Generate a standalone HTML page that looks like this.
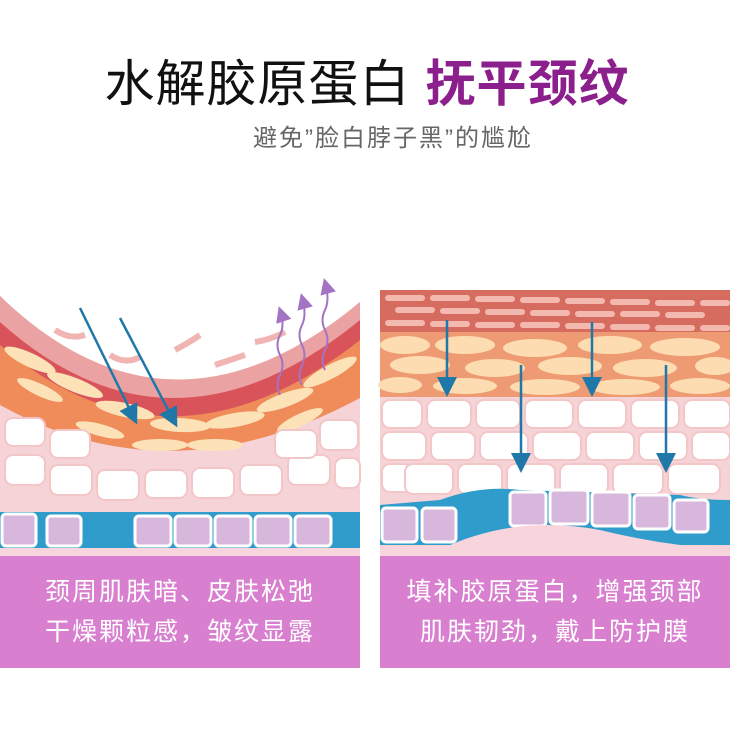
<!DOCTYPE html>
<html><head><meta charset="utf-8"><style>
body{margin:0;width:730px;height:739px;background:#fff;overflow:hidden;position:relative;font-family:"Liberation Sans","Noto Sans CJK SC",sans-serif}
.t{position:absolute;left:0;width:730px;text-align:center}
.box{position:absolute;top:556px;height:112px;background:#d880cf;color:#fff;font-size:25px;line-height:40px;text-align:center;padding-top:16px;box-sizing:border-box;letter-spacing:2px}
</style></head><body>
<div class="t" style="top:44px;font-size:50px;color:#111;left:2px;letter-spacing:1px">水解胶原蛋白 <b style="color:#8b1f8c">抚平颈纹</b></div>
<div class="t" style="top:118px;font-size:24px;color:#666;left:28px;letter-spacing:2px">避免”脸白脖子黑”的尴尬</div>
<svg style="position:absolute;left:0;top:0" width="730" height="739">
<defs>
<marker id="a" markerWidth="8" markerHeight="8" refX="6" refY="4" orient="auto"><path d="M0,0L8,4L0,8z" fill="#1f78a8"/></marker>
<marker id="p" markerWidth="8" markerHeight="8" refX="6" refY="4" orient="auto"><path d="M0,0L8,4L0,8z" fill="#a474c4"/></marker>
</defs>
<!-- left panel -->
<rect x="0" y="330" width="360" height="226" fill="#f6d3d6"/>
<path d="M0,295 Q170,480 360,300 L360,330 L0,330Z" fill="#fff"/>
<path d="M0,300 Q170,485 360,305 L360,398 Q170,500 0,405Z" fill="#ef8c5a"/>
<path d="M0,296 Q170,470 360,302 L360,340 Q170,490 0,345Z" fill="#d9545a"/>
<path d="M0,296 Q170,460 360,302 L360,320 Q170,475 0,322Z" fill="#eaa2a2"/>
<g fill="#fde2b8">
<ellipse cx="30" cy="360" rx="28" ry="7" transform="rotate(25 30 360)"/><ellipse cx="75" cy="385" rx="30" ry="7" transform="rotate(22 75 385)"/>
<ellipse cx="125" cy="410" rx="30" ry="7" transform="rotate(12 125 410)"/><ellipse cx="180" cy="425" rx="30" ry="7" transform="rotate(3 180 425)"/>
<ellipse cx="235" cy="420" rx="30" ry="7" transform="rotate(-10 235 420)"/><ellipse cx="285" cy="400" rx="30" ry="7" transform="rotate(-20 285 400)"/>
<ellipse cx="330" cy="372" rx="30" ry="7" transform="rotate(-28 330 372)"/><ellipse cx="160" cy="445" rx="28" ry="6"/><ellipse cx="215" cy="445" rx="28" ry="6"/>
<ellipse cx="40" cy="390" rx="25" ry="6" transform="rotate(25 40 390)"/><ellipse cx="300" cy="420" rx="25" ry="6" transform="rotate(-25 300 420)"/><ellipse cx="100" cy="430" rx="25" ry="6" transform="rotate(15 100 430)"/>
</g>
<g stroke="#f0b4b2" stroke-width="6" fill="none">
<path d="M55,330q15,10 30,5"/><path d="M110,355q15,10 30,2"/><path d="M175,350q15,-8 25,-15"/><path d="M215,365q15,-5 30,-10"/><path d="M255,342q15,-2 30,-10"/>
</g>
<g fill="#fff" stroke="#f3c6c8" stroke-width="2">
<rect x="5" y="455" width="40" height="30" rx="8"/><rect x="50" y="465" width="42" height="30" rx="8"/><rect x="97" y="470" width="42" height="30" rx="8"/>
<rect x="145" y="470" width="42" height="28" rx="8"/><rect x="192" y="468" width="42" height="30" rx="8"/><rect x="240" y="465" width="42" height="30" rx="8"/>
<rect x="288" y="455" width="42" height="30" rx="8"/><rect x="320" y="420" width="38" height="30" rx="8"/><rect x="5" y="418" width="40" height="28" rx="8"/>
<rect x="50" y="430" width="40" height="28" rx="8"/><rect x="275" y="430" width="42" height="28" rx="8"/><rect x="335" y="458" width="25" height="30" rx="8"/>
</g>
<rect x="0" y="512" width="360" height="36" fill="#2f9ccc"/>
<g fill="#d7b8dc" stroke="#fff" stroke-width="3">
<rect x="2" y="514" width="34" height="32" rx="4"/><rect x="47" y="516" width="34" height="30" rx="4"/><rect x="135" y="516" width="36" height="30" rx="4"/>
<rect x="175" y="516" width="36" height="30" rx="4"/><rect x="215" y="516" width="36" height="30" rx="4"/><rect x="255" y="516" width="36" height="30" rx="4"/><rect x="295" y="516" width="36" height="30" rx="4"/>
</g>
<rect x="0" y="548" width="360" height="8" fill="#f8d4dc"/>
<line x1="80" y1="308" x2="135" y2="420" stroke="#1f78a8" stroke-width="2.5" marker-end="url(#a)"/>
<line x1="120" y1="318" x2="175" y2="423" stroke="#1f78a8" stroke-width="2.5" marker-end="url(#a)"/>
<g stroke="#a474c4" stroke-width="2" fill="none" marker-end="url(#p)">
<path d="M280,395 q-5,-10 0,-20 q5,-10 0,-20 q-5,-10 0,-20 q5,-10 0,-25"/><path d="M302,385 q-5,-10 0,-20 q5,-10 0,-20 q-5,-10 0,-20 q5,-10 0,-28"/><path d="M325,370 q-5,-10 0,-20 q5,-10 0,-20 q-5,-10 0,-20 q5,-10 0,-28"/>
</g>
<!-- right panel -->
<rect x="380" y="290" width="350" height="266" fill="#f6d3d6"/>
<rect x="380" y="290" width="350" height="42" fill="#d66c5f"/>
<g fill="#f3b8ae"><rect x="385" y="295" width="40" height="6" rx="3"/><rect x="430" y="295" width="40" height="6" rx="3"/><rect x="475" y="296" width="40" height="6" rx="3"/><rect x="520" y="297" width="40" height="6" rx="3"/><rect x="565" y="298" width="40" height="6" rx="3"/><rect x="610" y="299" width="40" height="6" rx="3"/><rect x="655" y="300" width="40" height="6" rx="3"/><rect x="700" y="300" width="30" height="6" rx="3"/>
<rect x="395" y="307" width="40" height="6" rx="3"/><rect x="440" y="308" width="40" height="6" rx="3"/><rect x="485" y="309" width="40" height="6" rx="3"/><rect x="530" y="310" width="40" height="6" rx="3"/><rect x="575" y="311" width="40" height="6" rx="3"/><rect x="620" y="311" width="40" height="6" rx="3"/><rect x="665" y="312" width="40" height="6" rx="3"/>
<rect x="385" y="320" width="40" height="6" rx="3"/><rect x="430" y="321" width="40" height="6" rx="3"/><rect x="475" y="322" width="40" height="6" rx="3"/><rect x="520" y="322" width="40" height="6" rx="3"/><rect x="565" y="323" width="40" height="6" rx="3"/><rect x="610" y="324" width="40" height="6" rx="3"/><rect x="655" y="325" width="40" height="6" rx="3"/><rect x="700" y="325" width="30" height="6" rx="3"/></g>
<rect x="380" y="332" width="350" height="65" fill="#ee9a72"/>
<g fill="#fcdcb0"><ellipse cx="405" cy="345" rx="25" ry="9"/><ellipse cx="465" cy="345" rx="30" ry="9"/><ellipse cx="535" cy="348" rx="32" ry="9"/><ellipse cx="610" cy="345" rx="32" ry="9"/><ellipse cx="685" cy="347" rx="35" ry="9"/>
<ellipse cx="420" cy="365" rx="30" ry="9"/><ellipse cx="495" cy="368" rx="30" ry="9"/><ellipse cx="570" cy="366" rx="32" ry="9"/><ellipse cx="645" cy="368" rx="32" ry="9"/><ellipse cx="715" cy="366" rx="20" ry="9"/>
<ellipse cx="400" cy="385" rx="22" ry="8"/><ellipse cx="465" cy="386" rx="32" ry="8"/><ellipse cx="545" cy="387" rx="35" ry="8"/><ellipse cx="625" cy="387" rx="35" ry="8"/><ellipse cx="700" cy="386" rx="30" ry="8"/></g>
<g fill="#fff" stroke="#f3c6c8" stroke-width="2">
<rect x="382" y="400" width="40" height="28" rx="8"/><rect x="427" y="400" width="44" height="28" rx="8"/><rect x="476" y="400" width="44" height="28" rx="8"/><rect x="525" y="400" width="48" height="28" rx="8"/><rect x="578" y="400" width="48" height="28" rx="8"/><rect x="631" y="400" width="48" height="28" rx="8"/><rect x="684" y="400" width="46" height="28" rx="8"/>
<rect x="382" y="432" width="44" height="28" rx="8"/><rect x="431" y="432" width="44" height="28" rx="8"/><rect x="480" y="432" width="48" height="28" rx="8"/><rect x="533" y="432" width="48" height="28" rx="8"/><rect x="586" y="432" width="48" height="28" rx="8"/><rect x="639" y="432" width="48" height="28" rx="8"/><rect x="692" y="432" width="38" height="28" rx="8"/>
<rect x="382" y="464" width="30" height="28" rx="8"/><rect x="405" y="464" width="48" height="30" rx="8"/><rect x="458" y="464" width="44" height="30" rx="8"/><rect x="507" y="464" width="48" height="30" rx="8"/><rect x="560" y="464" width="48" height="30" rx="8"/><rect x="613" y="464" width="50" height="30" rx="8"/><rect x="668" y="464" width="52" height="30" rx="8"/>
</g>
<path d="M380,505 L440,500 Q480,485 520,490 L680,495 Q700,500 730,500 L730,545 L380,545Z" fill="#2f9ccc"/>
<g fill="#d7b8dc" stroke="#fff" stroke-width="3">
<rect x="382" y="508" width="35" height="34" rx="4"/><rect x="422" y="508" width="34" height="34" rx="4"/><rect x="510" y="492" width="36" height="34" rx="4"/><rect x="550" y="490" width="38" height="34" rx="4"/><rect x="592" y="492" width="38" height="34" rx="4"/><rect x="634" y="495" width="36" height="34" rx="4"/><rect x="674" y="500" width="34" height="32" rx="4"/>
</g>
<path d="M380,548 L450,545 Q520,515 600,530 Q660,545 730,550 L730,556 L380,556Z" fill="#f8d4dc"/>
<g stroke="#1f78a8" stroke-width="2.5" marker-end="url(#a)">
<line x1="447" y1="320" x2="447" y2="392"/><line x1="521" y1="365" x2="521" y2="468"/><line x1="592" y1="322" x2="592" y2="392"/><line x1="666" y1="365" x2="666" y2="468"/>
</g>
</svg>
<div class="box" style="left:0;width:360px">颈周肌肤暗、皮肤松弛<br>干燥颗粒感，皱纹显露</div>
<div class="box" style="left:380px;width:350px">填补胶原蛋白，增强颈部<br>肌肤韧劲，戴上防护膜</div>
</body></html>
